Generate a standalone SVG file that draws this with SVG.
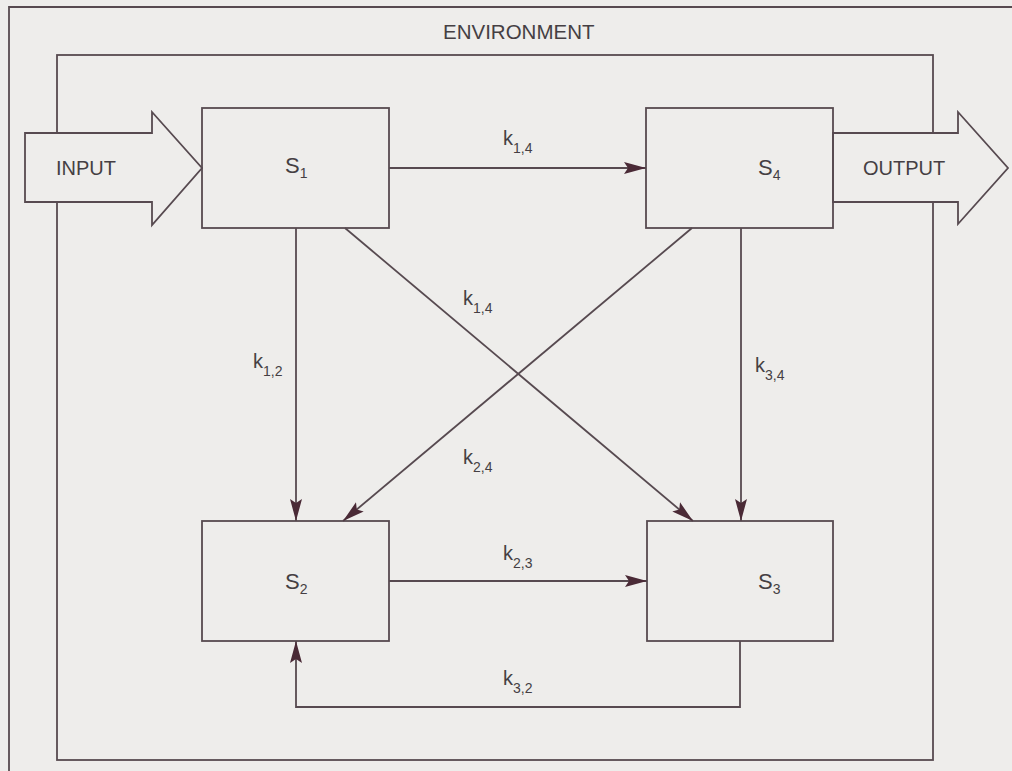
<svg xmlns="http://www.w3.org/2000/svg" width="1012" height="771" viewBox="0 0 1012 771">
  <style>
    .ln { fill: none; stroke: #574a50; stroke-width: 1.8; }
    .box { fill: none; stroke: #574a50; stroke-width: 1.8; }
    .big { fill: #eeedeb; stroke: #574a50; stroke-width: 1.8; stroke-linejoin: miter; }
    .t { font-family: "Liberation Sans", Arial, sans-serif; fill: #453f43; }
    .cap { font-size: 20px; }
    .s { font-size: 22px; }
    .k { font-size: 20px; }
    .sub { font-size: 14px; }
  </style>
  <defs>
    <marker id="ah" markerUnits="userSpaceOnUse" markerWidth="24" markerHeight="14" refX="22" refY="7" orient="auto">
      <path d="M0,1 L22,7 L0,13 L4,7 Z" fill="#4a2a36"/>
    </marker>
  </defs>

  <!-- page -->
  <rect x="0" y="0" width="1012" height="771" fill="#eeedeb"/>
  <path class="ln" d="M9,771 V7 H1012"/>

  <!-- environment boundary -->
  <g id="environment">
    <rect class="box" x="57" y="55" width="876" height="705"/>
    <text class="t cap" x="443" y="39" style="font-size:20.5px">ENVIRONMENT</text>
  </g>

  <!-- input / output block arrows -->
  <g id="input">
    <polygon class="big" points="25,133 152,133 152,112 202,168 152,225 152,202 25,202"/>
    <text class="t cap" x="56" y="175">INPUT</text>
  </g>
  <g id="output">
    <polygon class="big" points="833,133 958,133 958,112 1008,168 958,224 958,202 833,202"/>
    <text class="t cap" x="863" y="175">OUTPUT</text>
  </g>

  <!-- subsystems -->
  <g id="s1">
    <rect class="box" x="202" y="108" width="187" height="120"/>
    <text class="t s" x="285" y="173">S<tspan class="sub" dy="5">1</tspan></text>
  </g>
  <g id="s4">
    <rect class="box" x="646" y="108" width="187" height="120"/>
    <text class="t s" x="758" y="175">S<tspan class="sub" dy="5">4</tspan></text>
  </g>
  <g id="s2">
    <rect class="box" x="202" y="521" width="187" height="120"/>
    <text class="t s" x="285" y="589">S<tspan class="sub" dy="5">2</tspan></text>
  </g>
  <g id="s3">
    <rect class="box" x="647" y="521" width="186" height="120"/>
    <text class="t s" x="758" y="589">S<tspan class="sub" dy="5">3</tspan></text>
  </g>

  <!-- flows between subsystems -->
  <g id="connectors">
    <line class="ln" x1="389" y1="168" x2="646" y2="168" marker-end="url(#ah)"/>
    <line class="ln" x1="296" y1="228" x2="296" y2="521" marker-end="url(#ah)"/>
    <line class="ln" x1="345" y1="228" x2="693" y2="521" marker-end="url(#ah)"/>
    <line class="ln" x1="692" y1="228" x2="343" y2="521" marker-end="url(#ah)"/>
    <line class="ln" x1="741" y1="228" x2="741" y2="521" marker-end="url(#ah)"/>
    <line class="ln" x1="389" y1="581" x2="647" y2="581" marker-end="url(#ah)"/>
    <path class="ln" d="M740,641 V707 H296 V641" marker-end="url(#ah)"/>

    <text class="t k" x="503" y="145">k<tspan class="sub" dy="8">1,4</tspan></text>
    <text class="t k" x="253" y="368">k<tspan class="sub" dy="8">1,2</tspan></text>
    <text class="t k" x="463" y="305">k<tspan class="sub" dy="8">1,4</tspan></text>
    <text class="t k" x="463" y="464">k<tspan class="sub" dy="8">2,4</tspan></text>
    <text class="t k" x="755" y="372">k<tspan class="sub" dy="8">3,4</tspan></text>
    <text class="t k" x="503" y="560">k<tspan class="sub" dy="8">2,3</tspan></text>
    <text class="t k" x="503" y="685">k<tspan class="sub" dy="8">3,2</tspan></text>
  </g>
</svg>
